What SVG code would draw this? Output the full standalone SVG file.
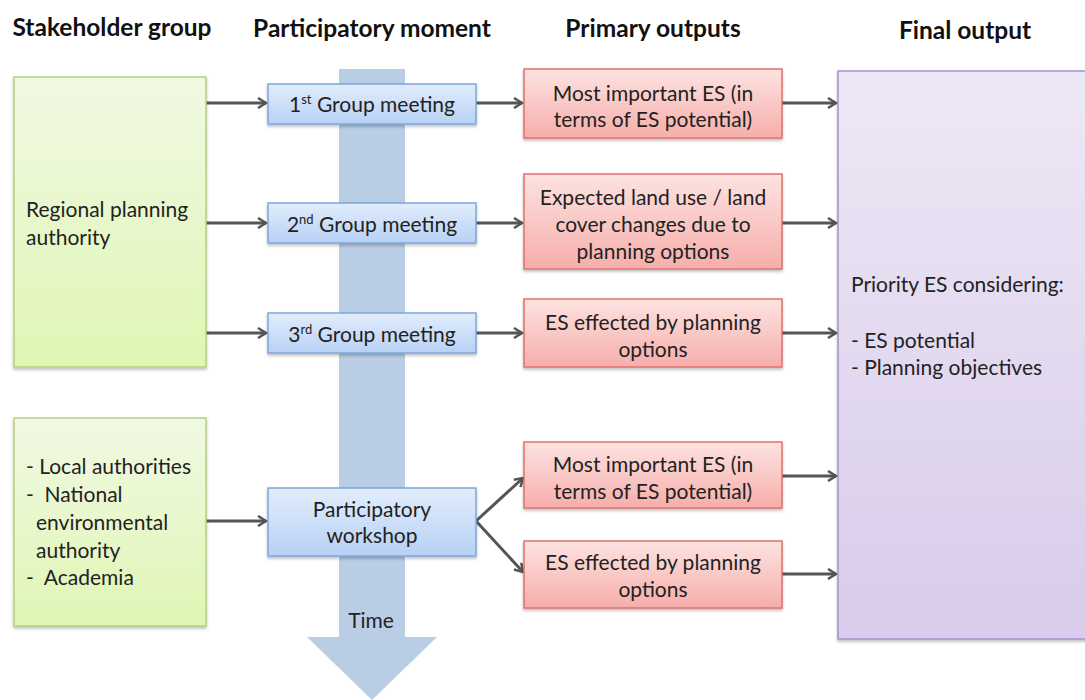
<svg xmlns="http://www.w3.org/2000/svg" width="1085" height="700" viewBox="0 0 1085 700">
<defs>
<linearGradient id="gGreen" x1="0" y1="0" x2="0" y2="1"><stop offset="0" stop-color="#f1f9e3"/><stop offset="1" stop-color="#dff6b4"/></linearGradient>
<linearGradient id="gBlue" x1="0" y1="0" x2="0" y2="1"><stop offset="0" stop-color="#e2edfc"/><stop offset="1" stop-color="#b7d1f5"/></linearGradient>
<linearGradient id="gRed" x1="0" y1="0" x2="0" y2="1"><stop offset="0" stop-color="#fde3e1"/><stop offset="1" stop-color="#f6aeab"/></linearGradient>
<linearGradient id="gPurple" x1="0" y1="0" x2="0" y2="1"><stop offset="0" stop-color="#ede8f5"/><stop offset="1" stop-color="#d9cbeb"/></linearGradient>
<filter id="sh" x="-10%" y="-10%" width="120%" height="130%"><feDropShadow dx="0" dy="2" stdDeviation="1.5" flood-color="#000" flood-opacity="0.25"/></filter>
<marker id="ah" markerWidth="12" markerHeight="12" refX="9" refY="6" orient="auto" markerUnits="userSpaceOnUse"><path d="M1,1 L9,6 L1,11" fill="none" stroke="#555" stroke-width="2.5"/></marker>
<style>
.hdr{font-family:"Lato","Liberation Sans",sans-serif;font-weight:bold;font-size:24.5px;fill:#111;text-anchor:middle}
.t{font-family:"Lato","Liberation Sans",sans-serif;font-size:21px;fill:#222}
.c{text-anchor:middle}
.green{fill:url(#gGreen);stroke:#b3d27c;stroke-width:1.5}
.blue{fill:url(#gBlue);stroke:#7ea6dc;stroke-width:1.5}
.red{fill:url(#gRed);stroke:#e0706b;stroke-width:1.5}
.purple{fill:url(#gPurple);stroke:#a88fcc;stroke-width:1.5}
.conn{stroke:#555;stroke-width:3;fill:none;marker-end:url(#ah)}
</style>
</defs>
<rect width="1085" height="700" fill="#ffffff"/>

<g id="headers">
<text class="hdr" x="112" y="36">Stakeholder group</text>
<text class="hdr" x="372" y="37">Participatory moment</text>
<text class="hdr" x="653" y="37">Primary outputs</text>
<text class="hdr" x="965" y="39">Final output</text>
</g>

<g id="time-arrow">
<path d="M339,69 L405,69 L405,637 L437,637 L372,700 L307,637 L339,637 Z" fill="#b9cde4"/>
<text class="t c" x="371" y="628">Time</text>
</g>

<g id="connectors">
<line class="conn" x1="206" y1="103" x2="266" y2="103"/>
<line class="conn" x1="206" y1="223" x2="266" y2="223"/>
<line class="conn" x1="206" y1="333" x2="266" y2="333"/>
<line class="conn" x1="206" y1="521" x2="266" y2="521"/>
<line class="conn" x1="476" y1="103" x2="522" y2="103"/>
<line class="conn" x1="476" y1="223" x2="522" y2="223"/>
<line class="conn" x1="476" y1="333" x2="522" y2="333"/>
<line class="conn" x1="476" y1="521" x2="523" y2="478"/>
<line class="conn" x1="476" y1="521" x2="523" y2="572"/>
<line class="conn" x1="782" y1="103" x2="836" y2="103"/>
<line class="conn" x1="782" y1="223" x2="836" y2="223"/>
<line class="conn" x1="782" y1="333" x2="836" y2="333"/>
<line class="conn" x1="782" y1="476" x2="836" y2="476"/>
<line class="conn" x1="782" y1="574" x2="836" y2="574"/>
</g>

<g id="stakeholder-regional">
<rect class="green" x="14" y="77" width="192" height="290" filter="url(#sh)"/>
<text class="t" x="26" y="217">Regional planning</text>
<text class="t" x="26" y="245">authority</text>
</g>

<g id="stakeholder-local">
<rect class="green" x="14" y="418" width="192" height="208" filter="url(#sh)"/>
<text class="t" x="26" y="474">- Local authorities</text>
<text class="t" x="26" y="502" xml:space="preserve">-  National</text>
<text class="t" x="36" y="530">environmental</text>
<text class="t" x="36" y="558">authority</text>
<text class="t" x="26" y="585" xml:space="preserve">-  Academia</text>
</g>

<g id="meeting-1">
<rect class="blue" x="268" y="84" width="208" height="40" filter="url(#sh)"/>
<text class="t c" x="372" y="112">1<tspan font-size="13" dy="-8">st</tspan><tspan dy="8"> Group meeting</tspan></text>
</g>
<g id="meeting-2">
<rect class="blue" x="268" y="203" width="208" height="40" filter="url(#sh)"/>
<text class="t c" x="372" y="232">2<tspan font-size="13" dy="-8">nd</tspan><tspan dy="8"> Group meeting</tspan></text>
</g>
<g id="meeting-3">
<rect class="blue" x="268" y="313" width="208" height="40" filter="url(#sh)"/>
<text class="t c" x="372" y="342">3<tspan font-size="13" dy="-8">rd</tspan><tspan dy="8"> Group meeting</tspan></text>
</g>
<g id="workshop">
<rect class="blue" x="268" y="488" width="208" height="68" filter="url(#sh)"/>
<text class="t c" x="372" y="517">Participatory</text>
<text class="t c" x="372" y="543">workshop</text>
</g>

<g id="output-1">
<rect class="red" x="524" y="69" width="258" height="69" filter="url(#sh)"/>
<text class="t c" x="653" y="101">Most important ES (in</text>
<text class="t c" x="653" y="127">terms of ES potential)</text>
</g>
<g id="output-2">
<rect class="red" x="524" y="174" width="258" height="95" filter="url(#sh)"/>
<text class="t c" x="653" y="205">Expected land use / land</text>
<text class="t c" x="653" y="232">cover changes due to</text>
<text class="t c" x="653" y="259">planning options</text>
</g>
<g id="output-3">
<rect class="red" x="524" y="299" width="258" height="68" filter="url(#sh)"/>
<text class="t c" x="653" y="330">ES effected by planning</text>
<text class="t c" x="653" y="357">options</text>
</g>
<g id="output-4">
<rect class="red" x="524" y="442" width="258" height="66" filter="url(#sh)"/>
<text class="t c" x="653" y="472">Most important ES (in</text>
<text class="t c" x="653" y="499">terms of ES potential)</text>
</g>
<g id="output-5">
<rect class="red" x="524" y="541" width="258" height="67" filter="url(#sh)"/>
<text class="t c" x="653" y="570">ES effected by planning</text>
<text class="t c" x="653" y="597">options</text>
</g>

<g id="final-output">
<rect class="purple" x="838" y="71" width="260" height="568" filter="url(#sh)"/>
<text class="t" x="851" y="292">Priority ES considering:</text>
<text class="t" x="851" y="348">- ES potential</text>
<text class="t" x="851" y="375">- Planning objectives</text>
</g>
</svg>
